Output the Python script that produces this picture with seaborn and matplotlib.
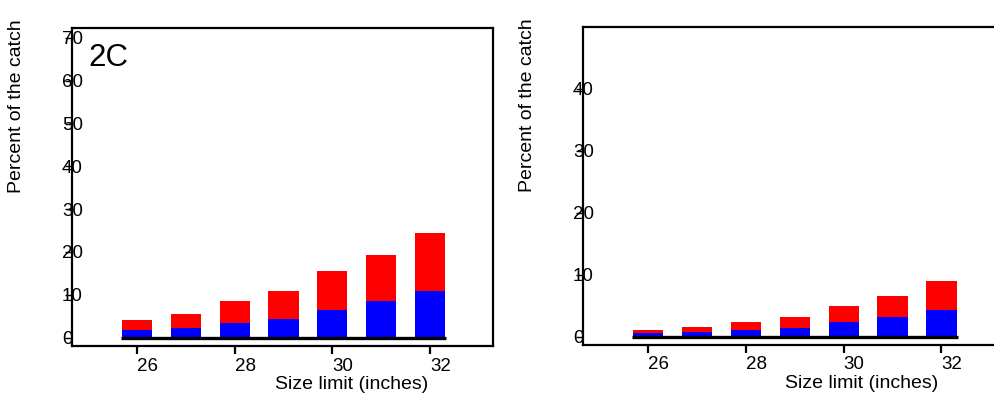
import numpy as np
import pandas as pd
import matplotlib
matplotlib.use("Agg")
import matplotlib.pyplot as plt
import seaborn as sns

# Data
sizes = [26, 27, 28, 29, 30, 31, 32]
left_total = [4.1, 5.5, 8.5, 10.9, 15.5, 19.3, 24.4]
left_blue = [1.75, 2.3, 3.4, 4.3, 6.5, 8.5, 10.9]
right_total = [1.1, 1.6, 2.4, 3.1, 5.0, 6.6, 8.9]
right_blue = [0.5, 0.8, 1.0, 1.45, 2.3, 3.1, 4.3]
left_yticks = [0, 10, 20, 30, 40, 50, 60, 70]
right_yticks = [0, 10, 20, 30, 40]
xticks = [26, 28, 30, 32]
ylabel = "Percent of the catch"
xlabel = "Size limit (inches)"

sns.set_style("ticks")
plt.rcParams["font.family"] = ["Liberation Sans", "DejaVu Sans"]
plt.rcParams["text.color"] = "black"
plt.rcParams["axes.labelcolor"] = "black"

fig = plt.figure(figsize=(9.95, 3.99), dpi=100)
ax1 = fig.add_axes([0.0724, 0.1316, 0.4231, 0.798])
ax2 = fig.add_axes([0.586, 0.1353, 0.4236, 0.797])


def panel(ax, total, blue, ylim, yticks, xlab_x):
    df = pd.DataFrame({"size": sizes, "total": total, "blue": blue})
    sns.barplot(data=df, x="size", y="total", native_scale=True, width=0.62,
                color="#ff0000", saturation=1, linewidth=0, errorbar=None, ax=ax)
    sns.barplot(data=df, x="size", y="blue", native_scale=True, width=0.62,
                color="#0000ff", saturation=1, linewidth=0, errorbar=None, ax=ax)
    ax.plot([sizes[0] - 0.33, sizes[-1] + 0.33], [0, 0], color="black", lw=2.4,
            solid_capstyle="butt")
    ax.set_xlim(24.67, 33.29)
    ax.set_ylim(*ylim)
    ax.set_xticks(xticks)
    ax.set_yticks(yticks)
    ax.set_ylabel("")
    ax.set_xlabel(xlabel, fontsize=14, color="black")
    ax.xaxis.set_label_coords(xlab_x, -0.093)
    ax.xaxis.label.set_ha("center")
    ax.xaxis.label.set_va("top")
    for s in ax.spines.values():
        s.set_visible(True)
        s.set_linewidth(1.6)
        s.set_color("black")
    ax.tick_params(axis="x", direction="out", length=6, width=1.6, pad=2,
                   labelsize=13.5, colors="black")
    ax.tick_params(axis="y", direction="out", length=5, width=1, pad=2.2,
                   labelsize=13.5, colors="black")
    for t in ax.get_xticklabels():
        t.set_ha("left")
    for t in ax.get_yticklabels():
        t.set_ha("left")


panel(ax1, left_total, left_blue, (-2.1, 72.3), left_yticks, 0.663)
panel(ax2, right_total, right_blue, (-1.37, 50.0), right_yticks, 0.661)

ax1.text(0.038, 0.905, "2C", transform=ax1.transAxes, fontsize=22.5,
         ha="left", va="center", color="black")

fig.text(17 / 995, 1 - 193 / 399, ylabel, rotation=90, fontsize=14,
         ha="center", va="bottom", color="black")
fig.text(527 / 995, 1 - 192 / 399, ylabel, rotation=90, fontsize=14,
         ha="center", va="bottom", color="black")

fig.savefig("out.png", dpi=100)
